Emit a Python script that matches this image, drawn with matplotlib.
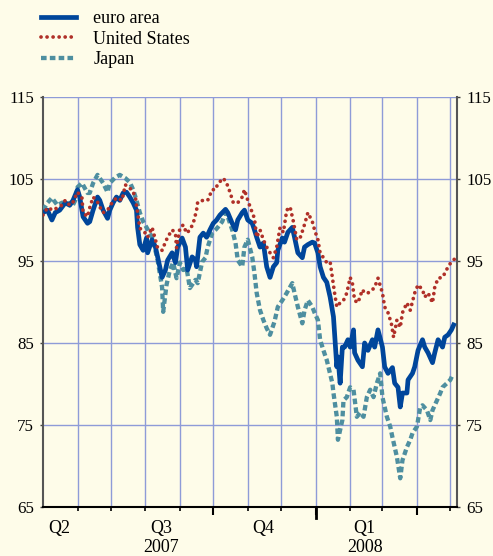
import numpy as np
import matplotlib
matplotlib.use('Agg')
import matplotlib.pyplot as plt
import matplotlib.transforms as mtransforms

# x values are days since 1 May 2007
euro_days = [0, 4, 8, 11, 15, 20, 24, 27, 31, 33, 36, 40, 42, 45, 49, 51, 54, 58, 60, 63,
             66, 69, 72, 75, 78, 81, 84, 85, 87, 90, 93, 94, 98, 101, 103, 107, 110, 112, 116, 119,
             121, 125, 128, 130, 134, 137, 138, 141, 144, 147, 150, 153, 156, 159, 164, 166, 170, 173, 175, 179,
             181, 184, 188, 190, 192, 195, 198, 201, 204, 207, 210, 211, 215, 217, 220, 224, 226, 229, 233, 235,
             238, 242, 244, 247, 249, 252, 255, 258, 261, 262, 264, 265, 267, 269, 271, 274, 276, 279, 280, 283,
             287, 289, 292, 296, 298, 301, 305, 307, 310, 314, 316, 319, 321, 323, 327, 328, 332, 334, 337, 341,
             343, 346, 350, 352, 355, 359, 361, 364, 367, 369]
euro_vals = [100.9, 101.2, 100.0, 100.9, 101.2, 102.1, 101.8, 102.4, 103.7, 102.8, 100.4, 99.6, 99.8, 101.2, 102.8, 102.4, 101.2, 100.2, 101.2, 102.1,
             102.8, 102.4, 103.3, 103.4, 102.8, 102.1, 101.2, 99.1, 97.0, 96.3, 97.8, 96.0, 97.6, 96.7, 95.5, 93.0, 93.9, 95.1, 96.0, 94.8,
             96.7, 97.8, 96.7, 93.9, 95.5, 95.1, 94.3, 97.9, 98.4, 97.9, 98.8, 99.6, 100.0, 100.6, 101.3, 100.9, 99.6, 98.8, 100.0, 100.9,
             101.2, 100.0, 99.6, 98.8, 97.9, 96.7, 97.2, 94.3, 93.0, 94.3, 94.8, 96.3, 97.8, 97.3, 98.5, 99.1, 97.9, 96.0, 95.4, 96.7,
             97.0, 97.3, 97.2, 96.0, 94.3, 93.0, 92.4, 90.6, 88.2, 86.2, 82.1, 83.3, 80.1, 84.5, 84.5, 85.4, 84.5, 86.6, 83.8, 82.9,
             82.1, 85.0, 84.1, 85.4, 84.5, 86.6, 84.5, 82.1, 81.3, 82.0, 80.1, 79.6, 77.2, 78.9, 78.9, 80.5, 81.3, 82.1, 84.1, 85.4,
             84.5, 83.8, 82.6, 83.8, 85.4, 84.5, 85.7, 86.0, 86.6, 87.2]

us_days = [0, 4, 9, 13, 17, 20, 24, 27, 31, 35, 36, 40, 42, 45, 49, 51, 54, 58, 62, 66,
           71, 74, 76, 80, 83, 84, 85, 87, 92, 94, 98, 101, 103, 107, 110, 112, 116, 119, 120, 123,
           126, 129, 132, 135, 138, 139, 144, 148, 152, 155, 157, 162, 165, 168, 171, 175, 179, 181, 184, 188,
           190, 192, 195, 198, 201, 204, 207, 210, 213, 216, 219, 222, 225, 228, 231, 234, 237, 238, 242, 244,
           247, 249, 252, 255, 258, 260, 262, 264, 267, 270, 273, 276, 278, 280, 283, 287, 289, 292, 296, 298,
           301, 305, 307, 310, 313, 315, 318, 321, 323, 327, 330, 334, 337, 341, 343, 346, 350, 352, 355, 359,
           361, 364, 367, 372]
us_vals = [100.6, 101.5, 101.2, 101.5, 101.8, 102.4, 101.8, 102.2, 103.4, 102.7, 100.9, 100.4, 101.5, 102.8, 102.2, 101.6, 100.9, 101.2, 102.1, 102.7,
           102.4, 104.3, 104.0, 103.7, 102.8, 101.8, 100.9, 99.0, 98.4, 97.9, 99.1, 97.6, 96.6, 96.3, 97.3, 97.9, 98.8, 98.4, 96.6, 99.0,
           99.4, 98.4, 98.8, 99.6, 101.2, 102.2, 102.4, 102.4, 103.7, 103.7, 104.4, 105.1, 104.5, 103.4, 102.1, 102.1, 102.8, 103.7, 102.4, 100.9,
           100.2, 97.9, 98.8, 97.6, 96.7, 96.0, 95.4, 96.7, 99.1, 98.5, 101.2, 101.6, 99.8, 97.6, 97.8, 99.0, 100.4, 100.9, 99.8, 98.8,
           97.6, 96.0, 95.4, 94.8, 94.9, 93.0, 91.1, 89.4, 89.9, 90.2, 91.1, 93.0, 92.3, 90.2, 89.9, 91.5, 91.1, 91.1, 91.5, 91.8,
           92.9, 91.1, 89.4, 88.7, 87.4, 85.7, 87.8, 86.9, 88.7, 89.9, 89.0, 91.1, 92.1, 91.5, 90.6, 91.1, 89.9, 91.8, 92.9, 93.0,
           93.5, 94.3, 94.9, 95.5]

japan_days = [0, 4, 8, 13, 17, 22, 26, 29, 31, 35, 40, 42, 45, 49, 54, 58, 60, 65, 69, 74,
              78, 81, 84, 87, 90, 93, 98, 101, 103, 107, 108, 111, 114, 117, 120, 123, 126, 129, 132, 137,
              139, 143, 146, 148, 152, 155, 157, 161, 164, 166, 170, 173, 175, 179, 181, 184, 188, 190, 192, 195,
              198, 201, 204, 208, 211, 215, 219, 224, 226, 229, 233, 235, 238, 242, 244, 247, 249, 252, 255, 260,
              261, 264, 265, 269, 270, 273, 276, 279, 282, 285, 288, 291, 294, 297, 300, 303, 305, 309, 312, 314,
              318, 321, 323, 327, 330, 332, 336, 339, 341, 345, 348, 350, 354, 357, 359, 363, 366, 368]
japan_vals = [101.2, 102.1, 102.7, 101.8, 102.1, 102.2, 101.6, 102.4, 104.0, 104.5, 103.3, 103.3, 104.5, 105.5, 104.5, 103.4, 104.5, 105.2, 105.5, 105.1,
              104.6, 103.7, 102.4, 100.9, 99.8, 99.1, 97.9, 96.3, 95.1, 91.8, 88.8, 92.1, 93.9, 94.8, 92.9, 94.8, 93.9, 94.1, 91.7, 92.7,
              92.3, 94.9, 95.4, 96.7, 98.4, 98.8, 99.1, 99.8, 100.9, 100.4, 98.8, 97.2, 95.1, 94.3, 96.7, 97.6, 95.5, 93.5, 91.1, 89.0,
              87.8, 86.8, 86.0, 87.6, 89.4, 90.2, 91.1, 92.3, 91.1, 89.4, 87.4, 89.0, 90.2, 89.4, 88.7, 87.8, 85.4, 84.1, 82.9, 80.1,
              78.9, 76.0, 73.2, 75.6, 78.0, 78.4, 79.6, 79.3, 76.0, 76.5, 76.0, 78.4, 79.3, 78.4, 80.1, 81.3, 78.4, 76.0, 74.8, 73.5,
              71.1, 68.5, 70.7, 72.3, 73.2, 74.0, 74.8, 77.2, 77.4, 76.8, 75.6, 76.8, 78.0, 78.9, 79.6, 80.1, 80.5, 81.1]

# month starts (days since 1 May 2007), Jun 2007 .. May 2008
month_starts = [31, 61, 92, 123, 153, 184, 214, 245, 276, 305, 336, 366]
quarter_starts = [153, 245, 336]
year_start = 245
quarter_labels = ['Q2', 'Q3', 'Q4', 'Q1']
quarter_mid = [15, 106, 198, 289]
year_labels = ['2007', '2008']
year_pos = [106, 289]
y_ticks = [65, 75, 85, 95, 105, 115]

bg = '#FEFCE9'
grid_c = '#8E9BD8'
c_euro = '#00469B'
c_us = '#B03028'
c_jp = '#4E8FA0'

plt.rcParams['font.family'] = ['Liberation Serif', 'DejaVu Serif']
plt.rcParams['font.size'] = 13

fig = plt.figure(figsize=(4.93, 5.56), dpi=100, facecolor=bg)
ax = fig.add_axes([43 / 493, 1 - 507 / 556, (457 - 43) / 493, (507 - 97) / 556])
ax.set_facecolor(bg)

ax.plot(japan_days, japan_vals, color=c_jp, lw=3.1, linestyle=(0, (1.3, 0.75)), label='Japan', zorder=3)
ax.plot(euro_days, euro_vals, color=c_euro, lw=3.4, solid_joinstyle='round', label='euro area', zorder=4)
ax.plot(us_days, us_vals, color=c_us, lw=2.7, linestyle=(0, (0.01, 1.6)), dash_capstyle='round',
        label='United States', zorder=5)

ax.set_xlim(0, 372)
ax.set_ylim(65, 115)

ax.set_xticks(quarter_starts)
ax.set_xticks([m for m in month_starts if m not in quarter_starts], minor=True)
ax.tick_params(axis='x', which='major', length=6, width=1.5, direction='out', labelbottom=False, color='black')
ax.tick_params(axis='x', which='minor', length=3, width=1.2, direction='out', labelbottom=False, color='black')
for m in month_starts:
    ax.axvline(m, color=grid_c, lw=1.0, zorder=1)

ax.set_yticks(y_ticks)
ax.tick_params(axis='y', left=True, right=True, labelleft=True, labelright=True, length=2,
               width=1, pad=4.5, labelsize=12.2, color='#444444')
for v in y_ticks[1:]:
    ax.axhline(v, color=grid_c, lw=1.0, zorder=1)

for s in ['left', 'right']:
    ax.spines[s].set_color('#555555')
    ax.spines[s].set_linewidth(1.5)
ax.spines['top'].set_visible(False)
ax.spines['bottom'].set_color('black')
ax.spines['bottom'].set_linewidth(1.5)

trans = mtransforms.blended_transform_factory(ax.transData, ax.transAxes)
ax.plot([year_start, year_start], [0, -0.027], transform=trans, color='black', lw=2, clip_on=False)
for lab, pos in zip(quarter_labels, quarter_mid):
    ax.text(pos, -0.052, lab, transform=trans, ha='center', va='center', fontsize=13)
for lab, pos in zip(year_labels, year_pos):
    ax.text(pos, -0.098, lab, transform=trans, ha='center', va='center', fontsize=13)

handles, labels = ax.get_legend_handles_labels()
order = [1, 2, 0]
leg = fig.legend([handles[i] for i in order], [labels[i] for i in order],
                 loc='upper left', bbox_to_anchor=(41 / 493, 1 - 10 / 556), frameon=False,
                 borderpad=0, borderaxespad=0, handlelength=1.95, handletextpad=0.95,
                 labelspacing=0.2, fontsize=13)

fig.savefig('out.png', dpi=100, facecolor=bg)
